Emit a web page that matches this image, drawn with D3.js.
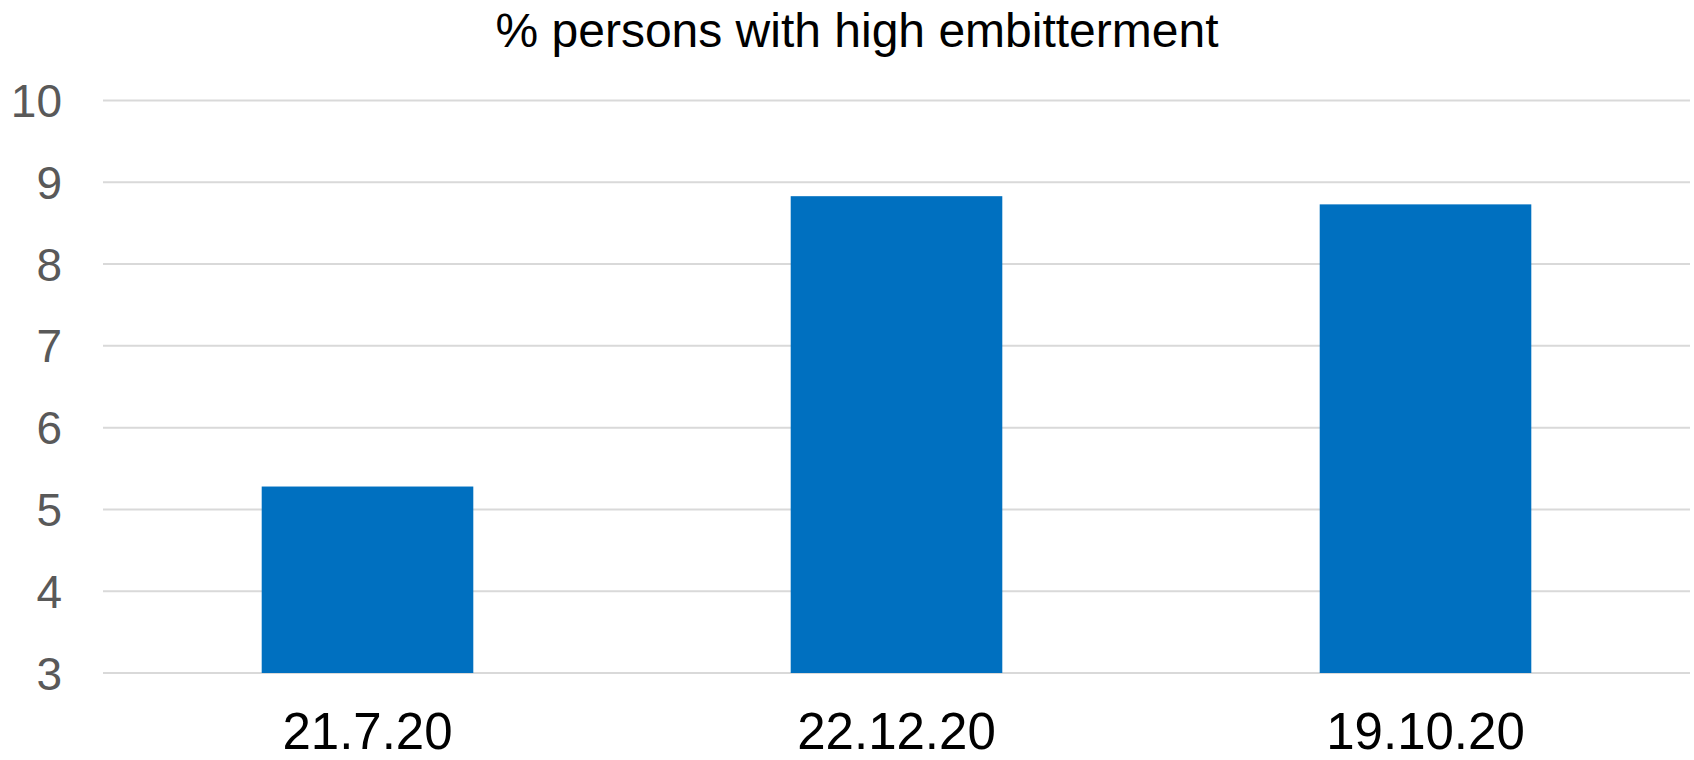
<!DOCTYPE html>
<html>
<head>
<meta charset="utf-8">
<script src="https://cdn.jsdelivr.net/npm/d3@7"></script>
<style>
  html, body { margin: 0; padding: 0; background: #fff; }
  svg { display: block; font-family: "Liberation Sans", Arial, sans-serif; }
</style>
</head>
<body>
<svg id="chart" width="1694" height="760"></svg>
<script>
// Survey dates and share of respondents with high embitterment (%)
const categories = ["21.7.20", "22.12.20", "19.10.20"];
const values = [5.28, 8.83, 8.73];
const yTicks = [3, 4, 5, 6, 7, 8, 9, 10];
const title = "% persons with high embitterment";

const svg = d3.select("#chart");
const plot = { left: 103, right: 1690, top: 100.5, bottom: 673 };

const x = d3.scaleBand()
  .domain(categories)
  .range([plot.left, plot.right])
  .paddingInner(0.6)
  .paddingOuter(0.3);

const y = d3.scaleLinear()
  .domain([3, 10])
  .range([plot.bottom, plot.top]);

// Horizontal gridlines
svg.append("g")
  .selectAll("line")
  .data(yTicks)
  .join("line")
  .attr("x1", plot.left)
  .attr("x2", plot.right)
  .attr("y1", d => y(d))
  .attr("y2", d => y(d))
  .attr("stroke", "#d9d9d9")
  .attr("stroke-width", 2);

// Y tick labels
svg.append("g")
  .selectAll("text")
  .data(yTicks)
  .join("text")
  .attr("x", 62)
  .attr("y", d => y(d))
  .attr("dy", "0.36em")
  .attr("text-anchor", "end")
  .attr("font-size", 46)
  .attr("fill", "#595959")
  .text(d => d);

// Bars
svg.append("g")
  .selectAll("rect")
  .data(categories.map((c, i) => ({ c, v: values[i] })))
  .join("rect")
  .attr("x", d => x(d.c))
  .attr("width", x.bandwidth())
  .attr("y", d => y(d.v))
  .attr("height", d => y(3) - y(d.v))
  .attr("fill", "#0070c0");

// Category labels
svg.append("g")
  .selectAll("text")
  .data(categories)
  .join("text")
  .attr("x", d => x(d) + x.bandwidth() / 2)
  .attr("y", 749)
  .attr("text-anchor", "middle")
  .attr("font-size", 51)
  .attr("fill", "#000")
  .text(d => d);

// Title
svg.append("text")
  .attr("x", 857)
  .attr("y", 47)
  .attr("text-anchor", "middle")
  .attr("font-size", 48)
  .attr("fill", "#000")
  .text(title);
</script>
</body>
</html>
